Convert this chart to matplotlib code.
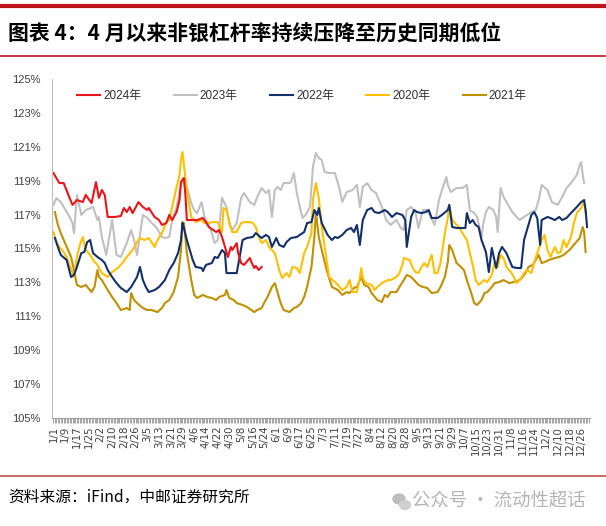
import numpy as np
import pandas as pd
import matplotlib
matplotlib.use("Agg")
import matplotlib.pyplot as plt
from matplotlib.lines import Line2D
from matplotlib.patches import Ellipse

# x axis: calendar days of a leap year, labelled m/d
dates = pd.date_range("2020-01-01", "2020-12-31", freq="D")
day_labels = [f"{d.month}/{d.day}" for d in dates]

# values (day index, leverage %)
days_2024 = [0, 4, 7, 11, 13, 16, 20, 22, 26, 29, 31, 33, 35, 37, 42, 46, 48, 50, 52, 54, 58, 61, 64, 65,
             69, 72, 74, 77, 79, 81, 84, 86, 87, 89, 90, 91, 98, 102, 104, 106, 111, 113, 115, 119, 121,
             122, 125, 126, 128, 130, 134, 135, 137, 138, 140, 142]
vals_2024 = [119.45, 118.86, 118.86, 117.98, 117.57, 117.86, 117.74, 118.16, 117.68, 118.92, 117.98,
             118.45, 118.16, 116.86, 116.86, 116.92, 117.39, 117.15, 117.45, 117.09, 117.74, 117.45,
             117.27, 117.39, 116.86, 116.68, 116.39, 116.50, 116.98, 116.68, 117.15, 117.86, 118.92,
             119.16, 118.16, 116.68, 116.68, 116.80, 116.56, 116.27, 115.97, 116.09, 115.68, 114.50,
             115.09, 114.91, 115.32, 114.73, 114.14, 114.03, 114.44, 114.20, 113.85, 113.97, 113.73,
             113.91]

days_2023 = [0, 2, 5, 9, 11, 13, 14, 16, 19, 22, 27, 30, 31, 33, 36, 40, 43, 46, 50, 53, 55, 57, 61, 64,
             67, 70, 74, 76, 79, 81, 84, 87, 88, 90, 91, 94, 96, 98, 101, 103, 105, 108, 110, 112, 113,
             115, 118, 120, 122, 125, 128, 130, 134, 137, 139, 142, 145, 147, 149, 151, 153, 155, 157,
             161, 162, 164, 166, 168, 170, 172, 175, 177, 179, 181, 183, 185, 188, 192, 195, 197, 200,
             204, 207, 209, 211, 214, 217, 220, 224, 227, 230, 234, 237, 239, 241, 244, 247, 249, 252,
             255, 260, 263, 265, 268, 269, 271, 275, 279, 282, 284, 287, 289, 292, 293, 295, 297, 300,
             302, 303, 305, 307, 311, 313, 316, 318, 321, 326, 329, 331, 333, 337, 340, 344, 347, 350,
             353, 357, 359, 360, 361, 362]
vals_2023 = [117.57, 117.98, 117.74, 117.15, 116.86, 116.50, 115.91, 118.16, 116.98, 117.27, 117.45,
             116.68, 116.86, 115.68, 114.62, 116.68, 114.62, 114.50, 115.32, 116.09, 115.50, 114.62,
             116.98, 116.80, 116.50, 116.27, 115.68, 115.62, 115.68, 116.68, 117.45, 118.86, 119.10,
             118.63, 118.63, 117.68, 117.27, 117.09, 117.74, 116.86, 116.56, 115.91, 115.32, 115.50,
             116.09, 117.98, 117.45, 116.50, 116.09, 116.50, 117.98, 118.27, 117.74, 117.57, 118.04,
             118.57, 118.27, 118.45, 116.86, 118.45, 118.63, 118.45, 118.86, 118.86, 118.92, 119.45,
             118.27, 117.45, 116.80, 116.98, 117.45, 119.81, 120.63, 120.34, 120.22, 119.51, 119.45,
             119.45, 118.57, 117.74, 118.33, 118.45, 118.75, 117.45, 118.63, 118.86, 118.45, 118.27,
             117.45, 116.68, 116.39, 116.68, 116.21, 116.09, 117.27, 117.45, 117.09, 116.21, 117.27,
             117.27, 116.39, 117.86, 118.45, 119.22, 118.75, 118.33, 118.57, 118.57, 118.75, 117.27,
             117.09, 116.86, 115.68, 116.39, 117.15, 117.45, 117.27, 116.86, 115.97, 118.57, 118.04,
             117.45, 117.15, 116.86, 116.68, 116.86, 117.15, 117.27, 117.86, 118.75, 118.45, 117.74,
             117.57, 118.04, 118.57, 118.86, 119.34, 119.93, 120.10, 119.34, 118.86]

days_2022 = [1, 3, 5, 9, 12, 14, 16, 19, 21, 23, 25, 27, 30, 33, 35, 37, 40, 43, 46, 50, 53, 55, 57, 59,
             61, 63, 65, 69, 72, 76, 79, 82, 85, 87, 88, 89, 91, 95, 97, 101, 102, 104, 108, 110, 112,
             115, 117, 118, 121, 125, 127, 129, 132, 136, 138, 142, 145, 147, 149, 152, 154, 157, 159,
             162, 166, 168, 171, 173, 176, 178, 180, 181, 183, 187, 190, 192, 194, 197, 200, 203, 205,
             207, 209, 211, 214, 217, 219, 222, 226, 228, 231, 234, 238, 240, 241, 244, 246, 248, 251,
             254, 256, 258, 262, 265, 269, 270, 272, 275, 279, 281, 282, 284, 286, 288, 290, 292, 295,
             297, 299, 302, 304, 306, 309, 311, 313, 316, 319, 321, 323, 326, 328, 330, 332, 333, 337,
             339, 342, 345, 347, 350, 353, 357, 360, 362, 363, 364]
vals_2022 = [115.62, 115.09, 114.62, 114.32, 113.32, 113.44, 113.91, 114.73, 114.79, 115.38, 115.50,
             114.73, 114.50, 114.32, 114.14, 113.73, 113.32, 112.96, 112.67, 112.43, 112.73, 113.02,
             113.32, 113.91, 113.14, 112.73, 112.43, 112.55, 112.73, 113.14, 113.73, 114.14, 114.73,
             115.50, 116.50, 116.21, 115.50, 114.32, 113.91, 113.85, 113.67, 114.03, 114.14, 114.50,
             114.44, 114.91, 114.73, 113.55, 113.55, 113.55, 114.50, 115.50, 115.62, 115.68, 115.91,
             115.62, 115.80, 115.68, 115.09, 115.62, 115.21, 115.09, 115.38, 115.62, 115.68, 115.80,
             115.97, 116.50, 116.56, 117.27, 116.98, 117.39, 116.50, 115.80, 115.50, 115.68, 115.62,
             115.80, 116.09, 116.21, 115.97, 116.39, 115.21, 116.68, 117.27, 117.39, 117.15, 117.09,
             117.27, 117.15, 116.86, 117.09, 116.98, 116.68, 115.09, 116.86, 117.27, 117.15, 117.09,
             117.15, 117.27, 116.80, 116.80, 116.98, 117.27, 117.57, 116.27, 116.21, 116.21, 116.21,
             117.09, 116.50, 116.68, 116.39, 116.27, 115.50, 114.79, 113.61, 115.03, 113.85, 114.73,
             115.09, 114.73, 114.32, 113.91, 113.85, 113.85, 115.50, 116.09, 116.98, 117.15, 116.80,
             115.21, 116.68, 116.86, 116.80, 116.68, 116.86, 116.68, 116.80, 117.09, 117.45, 117.74,
             117.86, 117.27, 116.27]

days_2020 = [0, 2, 4, 6, 9, 11, 13, 14, 16, 18, 20, 22, 25, 27, 30, 33, 37, 40, 44, 47, 50, 54, 57, 59,
             62, 65, 69, 71, 74, 77, 79, 81, 84, 86, 87, 88, 89, 91, 94, 97, 101, 103, 106, 108, 112,
             115, 116, 118, 120, 122, 125, 128, 130, 134, 136, 138, 140, 142, 145, 147, 151, 154, 156,
             159, 161, 163, 166, 168, 171, 173, 176, 177, 179, 181, 183, 186, 188, 192, 194, 197, 200,
             202, 204, 207, 209, 210, 211, 213, 217, 219, 221, 224, 228, 230, 234, 236, 238, 239, 243,
             245, 247, 249, 251, 253, 255, 258, 260, 262, 264, 267, 269, 270, 272, 275, 277, 279, 282,
             284, 286, 288, 290, 294, 296, 299, 301, 303, 305, 307, 309, 312, 314, 316, 319, 321, 323,
             326, 328, 330, 333, 335, 337, 339, 342, 344, 346, 348, 350, 353, 355, 357, 360, 362, 363]
vals_2020 = [115.97, 115.38, 115.09, 114.91, 114.50, 114.03, 113.61, 113.32, 114.50, 115.21, 115.68,
             114.91, 114.62, 114.32, 114.03, 113.55, 113.32, 113.61, 113.85, 114.14, 114.50, 114.91,
             115.38, 115.62, 115.50, 115.62, 115.09, 115.50, 115.91, 116.56, 116.68, 117.45, 118.63,
             119.34, 120.22, 120.69, 119.93, 118.45, 116.86, 116.56, 116.68, 116.50, 116.50, 116.56,
             116.56, 115.97, 117.39, 117.27, 116.50, 115.97, 115.97, 116.50, 116.56, 116.56, 116.50,
             116.27, 115.68, 115.32, 115.50, 115.09, 114.73, 113.73, 113.26, 113.55, 113.32, 113.91,
             113.85, 113.55, 114.73, 115.09, 115.91, 117.86, 118.86, 117.98, 116.27, 114.50, 113.32,
             113.02, 112.85, 112.55, 112.73, 113.14, 112.43, 112.43, 113.26, 113.85, 113.26, 112.96,
             112.85, 112.55, 112.73, 112.96, 113.14, 113.14, 113.32, 113.55, 114.03, 114.44, 114.32,
             113.85, 113.61, 113.55, 113.91, 114.14, 113.91, 114.62, 113.55, 113.55, 114.14, 115.91,
             116.80, 117.57, 116.68, 116.39, 116.21, 115.91, 115.50, 114.73, 114.03, 113.14, 112.85,
             113.14, 113.02, 113.44, 114.20, 113.91, 114.62, 114.44, 113.91, 113.61, 113.32, 112.96,
             113.26, 113.55, 113.73, 113.55, 114.20, 114.73, 115.50, 115.80, 114.91, 114.50, 115.09,
             114.73, 114.79, 115.50, 115.09, 115.68, 116.50, 117.09, 117.39, 117.74, 117.15]

days_2021 = [1, 3, 5, 7, 10, 12, 14, 16, 19, 22, 26, 28, 30, 31, 33, 37, 40, 43, 46, 50, 52, 53, 55, 57,
             61, 64, 67, 71, 74, 76, 79, 82, 85, 87, 88, 89, 91, 94, 96, 98, 102, 105, 108, 111, 113,
             117, 118, 120, 123, 125, 129, 132, 135, 137, 139, 142, 144, 146, 149, 151, 153, 155, 157,
             161, 164, 166, 169, 171, 173, 176, 178, 179, 181, 183, 186, 188, 190, 194, 197, 200, 202,
             205, 207, 210, 212, 215, 217, 221, 224, 226, 228, 230, 234, 236, 239, 241, 244, 246, 249,
             252, 255, 258, 262, 264, 267, 269, 270, 272, 275, 278, 280, 282, 285, 287, 289, 292, 294,
             296, 299, 301, 304, 307, 311, 314, 318, 320, 322, 324, 327, 329, 331, 333, 335, 338, 342,
             345, 348, 352, 355, 359, 361, 362, 363]
vals_2021 = [117.15, 116.39, 115.91, 115.50, 114.91, 114.50, 113.73, 112.85, 112.73, 112.85, 112.43,
             112.73, 113.73, 113.32, 113.14, 112.55, 112.14, 111.78, 111.37, 111.49, 111.37, 112.37,
             111.96, 111.78, 111.49, 111.37, 111.37, 111.25, 111.49, 111.78, 111.96, 112.43, 113.32,
             114.91, 116.56, 116.50, 114.73, 113.14, 112.26, 112.08, 112.26, 112.14, 112.08, 111.96,
             112.14, 112.26, 112.55, 112.08, 111.96, 111.78, 111.67, 111.55, 111.37, 111.25, 111.37,
             111.49, 111.84, 112.14, 112.73, 112.96, 112.37, 111.78, 111.37, 111.25, 111.49, 111.55,
             111.78, 112.14, 112.73, 113.91, 115.68, 117.15, 115.68, 114.91, 113.85, 113.26, 112.73,
             112.55, 112.26, 112.43, 112.37, 112.67, 112.73, 113.32, 112.85, 112.73, 112.37, 111.96,
             111.84, 112.26, 112.14, 112.43, 112.43, 112.73, 113.14, 113.44, 113.32, 113.14, 112.85,
             112.73, 112.67, 112.37, 112.43, 112.73, 113.32, 114.20, 115.21, 114.91, 114.14, 113.91,
             113.73, 113.14, 112.37, 111.78, 111.67, 111.96, 112.37, 112.43, 112.73, 112.96, 113.02,
             113.14, 112.96, 113.02, 113.14, 113.32, 113.55, 113.91, 114.03, 114.32, 114.62, 114.14,
             114.20, 114.32, 114.44, 114.50, 114.62, 114.91, 115.21, 115.62, 116.27, 115.97, 114.79]

series = [
    ("2024年", days_2024, vals_2024, "#E8161B"),
    ("2023年", days_2023, vals_2023, "#C0C0C0"),
    ("2022年", days_2022, vals_2022, "#14306B"),
    ("2020年", days_2020, vals_2020, "#FFC000"),
    ("2021年", days_2021, vals_2021, "#BF9000"),
]
draw_order = ["2023年", "2021年", "2020年", "2022年", "2024年"]

narrow = ["Liberation Sans Narrow", "Liberation Sans", "Noto Sans CJK SC"]
cjk = ["Noto Sans CJK SC", "DejaVu Sans"]

fig = plt.figure(figsize=(6.06, 5.26), dpi=100)
ax = fig.add_axes([52 / 606, 1 - 418 / 526, 538 / 606, 339 / 526])

handles = {}
for name in draw_order:
    label, d, v, color = [s for s in series if s[0] == name][0]
    ln, = ax.plot(d, v, color=color, lw=1.5, solid_joinstyle="round")
    handles[name] = ln

ax.set_xlim(-1, 366)
ax.set_ylim(105, 125)
ax.set_yticks(np.arange(105, 126, 2))
ax.set_yticklabels([f"{t}%" for t in range(105, 126, 2)], family=narrow, fontsize=8, color="#404040")
ax.tick_params(axis="y", length=0, pad=8)

major = np.arange(0, 366, 8)
ax.set_xticks(major)
ax.set_xticklabels([day_labels[i] for i in major], rotation=90, fontsize=7.3, color="#404040",
                   family=["DejaVu Sans"])
ax.set_xticks(np.arange(0, 366), minor=True)
ax.tick_params(axis="x", which="both", length=3.5, width=0.5, color="#808080", pad=2)

for s in ["top", "right"]:
    ax.spines[s].set_visible(False)
ax.spines["left"].set_color("#BFBFBF")
ax.spines["bottom"].set_color("#A0A0A0")

leg = ax.legend([handles[s[0]] for s in series], [s[0] for s in series], ncol=5, frameon=False,
                loc="center left", bbox_to_anchor=(0.047, 0.95), borderpad=0, borderaxespad=0,
                handlelength=1.95, handletextpad=0.25, columnspacing=2.75,
                prop={"family": narrow, "size": 8.5})
for t in leg.get_texts():
    t.set_color("#303030")

# header and footer decoration
fig.add_artist(Line2D([0, 1], [1 - 6 / 526] * 2, transform=fig.transFigure, color="#C0141B", lw=3))
fig.add_artist(Line2D([0, 1], [1 - 56 / 526] * 2, transform=fig.transFigure, color="#C0141B", lw=1.2))
fig.add_artist(Line2D([0, 1], [1 - 476 / 526] * 2, transform=fig.transFigure, color="#C0504D", lw=1.2))

fig.text(8 / 606, 1 - 33 / 526, "图表 4：4 月以来非银杠杆率持续压降至历史同期低位", fontsize=15,
         fontweight="bold", family=cjk, va="center", ha="left", color="black")
fig.text(8 / 606, 1 - 497 / 526, "资料来源：iFind，中邮证券研究所", fontsize=11.3, family=cjk,
         va="center", ha="left", color="black")
fig.text(412 / 606, 1 - 502 / 526, "公众号 · 流动性超话", fontsize=13.2, family=cjk,
         va="center", ha="left", color="#B4B4B4")
fig.add_artist(Ellipse((399 / 606, 1 - 499 / 526), 12 / 606, 10 / 526, transform=fig.transFigure,
                       color="#BDBDBD"))
fig.add_artist(Ellipse((405 / 606, 1 - 505 / 526), 11 / 606, 9 / 526, transform=fig.transFigure,
                       color="#CFCFCF"))

fig.savefig("out.png", dpi=100)
